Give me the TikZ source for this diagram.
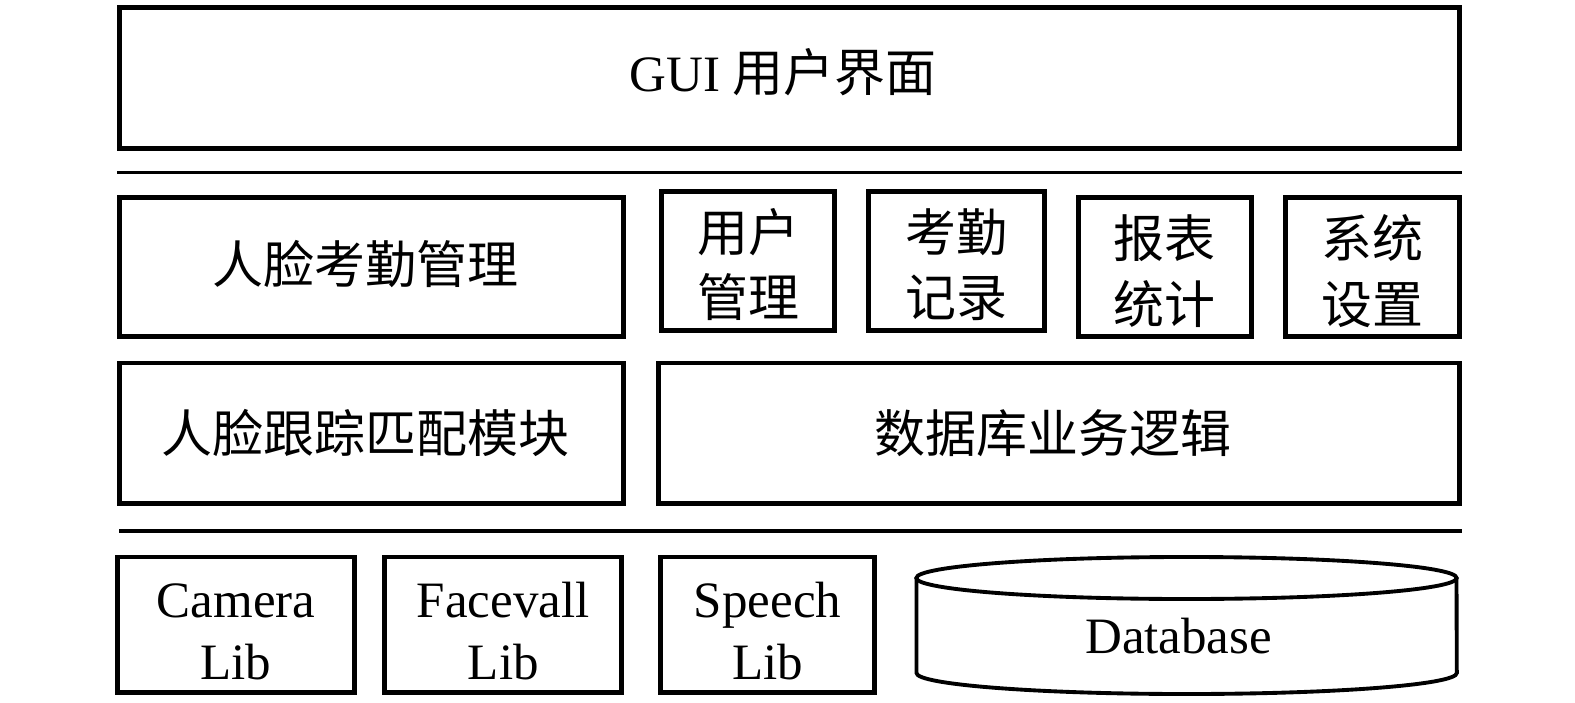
\documentclass[tikz,border=0pt]{standalone}
\usepackage{fontspec}
\setmainfont{Liberation Serif}
\newfontfamily\cjk{Noto Sans CJK SC}

\begin{document}
\begin{tikzpicture}[x=0.01cm, y=-0.01cm, every node/.style={
    rectangle,
    inner sep=0pt,
    draw,
    line width=1.4pt,
    align=center,
    font=\fontsize{14.5}{17.8}\selectfont
}, sepline/.style={line width=0.9pt}, twoline/.style={font=\fontsize{14.5}{18.6}\selectfont}]
    \useasboundingbox (0,0) rectangle (1575,703);
    \node (gui_layer) [minimum width=13.39cm, minimum height=1.405cm, shift={(789.5, 77.75)}]
    {
        GUI {\cjk 用户界面}\rule[-4.5pt]{0pt}{1pt}
    };
    \draw[sepline] (117, 172.5) -- (1462, 172.5);
    \node (face_attendance) [minimum width=5.035cm, minimum height=1.39cm, shift={(371.25, 267)}]
    {
        \cjk 人脸考勤管理\rule[-3pt]{0pt}{1pt}
    };
    \node (user_manage) [twoline, minimum width=1.725cm, minimum height=1.385cm, shift={(748.25, 260.75)}]
    {
        \cjk\rule{0pt}{14.5pt}用户\\\cjk 管理
    };
    \node (attendance_record) [twoline, minimum width=1.76cm, minimum height=1.385cm, shift={(956.5, 260.75)}]
    {
        \cjk\rule{0pt}{14.5pt}考勤\\\cjk 记录
    };
    \node (report_stats) [twoline, minimum width=1.725cm, minimum height=1.39cm, shift={(1164.75, 267)}]
    {
        \cjk\rule{0pt}{14.5pt}报表\\\cjk 统计
    };
    \node (system_settings) [twoline, minimum width=1.735cm, minimum height=1.39cm, shift={(1372.25, 267)}]
    {
        \cjk\rule{0pt}{14.5pt}系统\\\cjk 设置
    };
    \node (face_tracking) [minimum width=5.035cm, minimum height=1.4cm, shift={(371.25, 433)}]
    {
        \cjk 人脸跟踪匹配模块
    };
    \node (db_logic) [minimum width=8cm, minimum height=1.4cm, shift={(1059, 433)}]
    {
        \cjk 数据库业务逻辑
    };
    \draw[sepline] (119, 531) -- (1462, 531);
    \node (camera_lib) [minimum width=2.36cm, minimum height=1.355cm, shift={(236, 624.75)}]
    {
        \rule{0pt}{13.6pt}Camera\\Lib
    };
    \node (facevall_lib) [minimum width=2.365cm, minimum height=1.355cm, shift={(503.25, 624.75)}]
    {
        \rule{0pt}{13.6pt}Facevall\\Lib
    };
    \node (speech_lib) [minimum width=2.14cm, minimum height=1.355cm, shift={(767.5, 624.75)}]
    {
        \rule{0pt}{13.6pt}Speech\\Lib
    };
    % database cylinder
    \draw[line width=1.1pt] (916.5, 578) -- (916.5, 673)
        arc[start angle=180, end angle=360, x radius=2.7cm, y radius=0.21cm] -- (1456.5, 578);
    \draw[line width=1.1pt] (1186.5, 578) ellipse [x radius=2.7cm, y radius=0.21cm];
    \node (database) [draw=none, shift={(1185, 636)}]
    {
        Database
    };
\end{tikzpicture}
\end{document}
